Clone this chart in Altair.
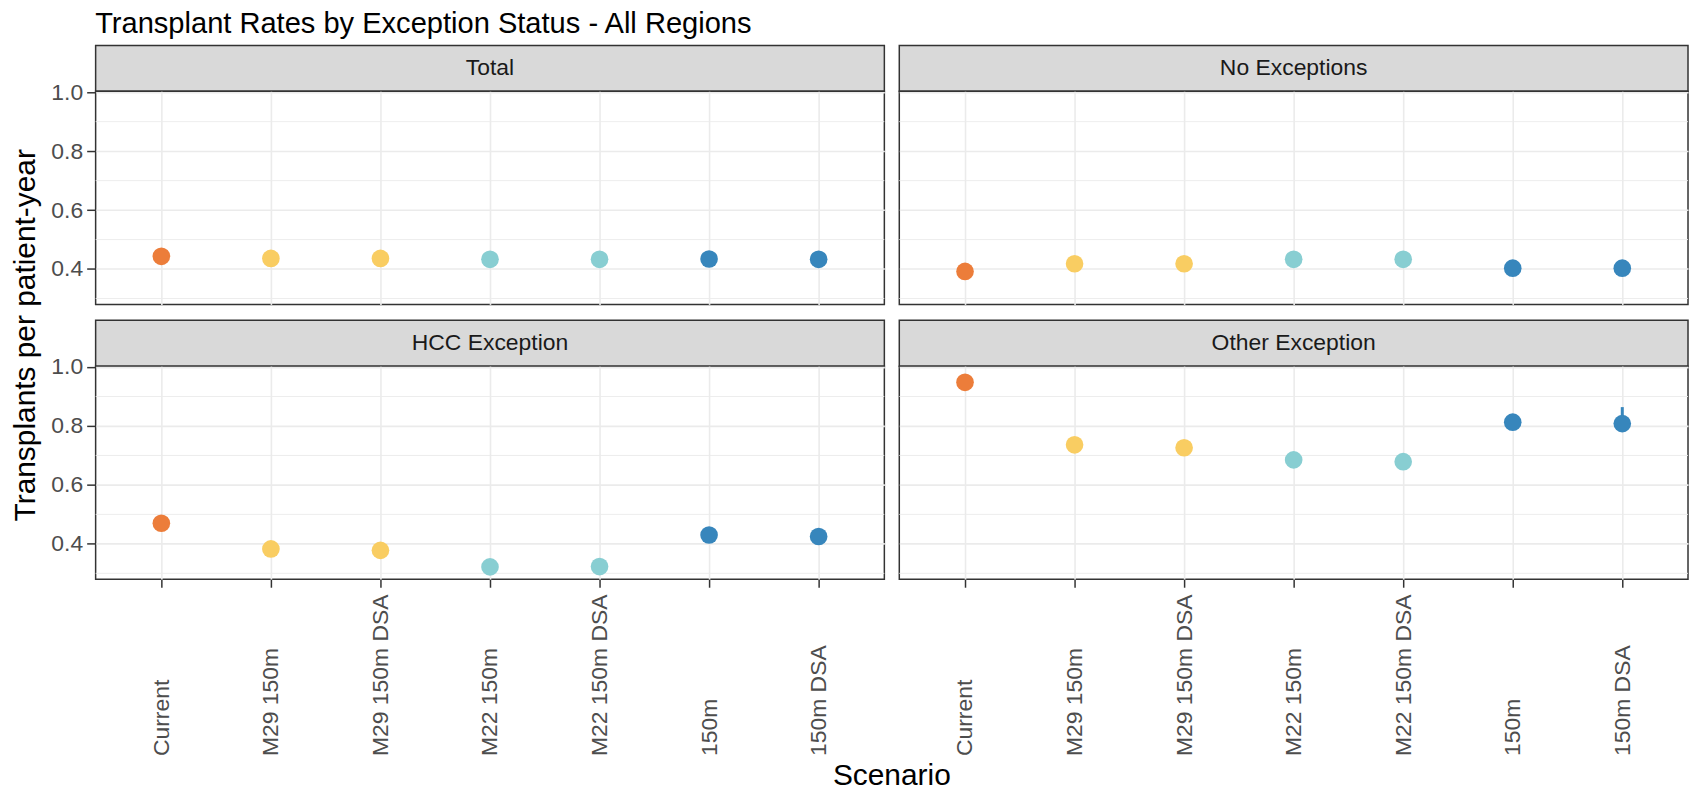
import altair as alt
import pandas as pd

FONT = "Liberation Sans"

chart_title = "Transplant Rates by Exception Status - All Regions"
y_title = "Transplants per patient-year"
x_title = "Scenario"

scenarios = ["Current", "M29 150m", "M29 150m DSA", "M22 150m", "M22 150m DSA", "150m", "150m DSA"]
scenario_group = ["Current", "M29", "M29", "M22", "M22", "150m", "150m"]
group_names = ["Current", "M29", "M22", "150m"]
group_colors = ["#EC7D3A", "#F9CD62", "#88CED2", "#3786BC"]

panels = ["Total", "No Exceptions", "HCC Exception", "Other Exception"]

rate_total = [0.443, 0.436, 0.436, 0.433, 0.433, 0.434, 0.433]
lo_total = [0.437, 0.431, 0.431, 0.428, 0.428, 0.428, 0.427]
hi_total = [0.449, 0.441, 0.441, 0.438, 0.438, 0.440, 0.439]

rate_noexc = [0.392, 0.418, 0.418, 0.433, 0.433, 0.403, 0.403]
lo_noexc = [0.386, 0.412, 0.412, 0.427, 0.427, 0.397, 0.397]
hi_noexc = [0.398, 0.424, 0.424, 0.439, 0.439, 0.409, 0.409]

rate_hcc = [0.470, 0.383, 0.378, 0.322, 0.323, 0.430, 0.425]
lo_hcc = [0.458, 0.374, 0.369, 0.313, 0.314, 0.421, 0.416]
hi_hcc = [0.482, 0.392, 0.387, 0.331, 0.332, 0.439, 0.434]

rate_other = [0.948, 0.736, 0.726, 0.685, 0.679, 0.813, 0.808]
lo_other = [0.926, 0.716, 0.706, 0.665, 0.659, 0.793, 0.780]
hi_other = [0.970, 0.756, 0.746, 0.705, 0.699, 0.833, 0.864]

major_ticks = [0.4, 0.6, 0.8, 1.0]
minor_ticks = [0.3, 0.5, 0.7, 0.9]
y_domain = [0.28, 1.003]

series = {
    "Total": (rate_total, lo_total, hi_total),
    "No Exceptions": (rate_noexc, lo_noexc, hi_noexc),
    "HCC Exception": (rate_hcc, lo_hcc, hi_hcc),
    "Other Exception": (rate_other, lo_other, hi_other),
}

rows = []
for p in panels:
    vals, los, his = series[p]
    for s, g, v, lo, hi in zip(scenarios, scenario_group, vals, los, his):
        rows.append({"panel": p, "scenario": s, "group": g, "rate": v, "lo": lo, "hi": hi})
df = pd.DataFrame(rows)
minor_df = pd.DataFrame({"v": minor_ticks})

W, H, SH, GAP = 792, 214, 46, 16
LW = 72          # width of the left column holding the y title
COLSP = 15
GRID = "#EBEBEB"
DARK = "#333333"
AXTXT = "#4D4D4D"
NOVIEW = alt.ViewBackground(stroke="transparent")


def panel_chart(name, left, bottom):
    d = df[df["panel"] == name]
    yaxis = alt.Axis(values=major_ticks, format=".1f", labels=left, ticks=left,
                     labelFontSize=23, labelColor=AXTXT, tickColor=DARK, tickSize=9,
                     tickWidth=1.5, labelPadding=4, domain=False, grid=True,
                     gridColor=GRID, gridWidth=1.6, title=None)
    xaxis = alt.Axis(labels=bottom, ticks=bottom, labelAngle=-90, labelAlign="left",
                     labelBaseline="middle", labelPadding=169, labelFontSize=23,
                     labelColor=AXTXT, labelOverlap=False, tickColor=DARK, tickSize=8,
                     tickWidth=1.5, domain=False, grid=True, gridColor=GRID,
                     gridWidth=1.6, title=None)
    xs = alt.Scale(type="point", domain=scenarios, padding=0.6)
    ys = alt.Scale(domain=y_domain, nice=False, zero=False)
    cs = alt.Scale(domain=group_names, range=group_colors)

    minor = alt.Chart(minor_df).mark_rule(color=GRID, strokeWidth=0.9).encode(
        y=alt.Y("v:Q", scale=ys, axis=yaxis)
    )
    err = alt.Chart(d).mark_rule(strokeWidth=3).encode(
        x=alt.X("scenario:N", scale=xs, axis=xaxis),
        y=alt.Y("lo:Q", scale=ys, axis=yaxis),
        y2="hi:Q",
        color=alt.Color("group:N", scale=cs, legend=None),
    )
    pts = alt.Chart(d).mark_circle(size=314, opacity=1).encode(
        x=alt.X("scenario:N", scale=xs, axis=xaxis),
        y=alt.Y("rate:Q", scale=ys, axis=yaxis),
        color=alt.Color("group:N", scale=cs, legend=None),
    )
    return alt.layer(minor, err, pts).properties(
        width=W, height=H,
        view=alt.ViewBackground(stroke=DARK, strokeWidth=1.5),
    )


def strip_chart(name):
    return alt.Chart(pd.DataFrame({"label": [name]})).mark_text(
        fontSize=23, color="#1A1A1A", baseline="middle", align="center"
    ).encode(
        x=alt.value(W / 2), y=alt.value(SH / 2), text="label:N"
    ).properties(
        width=W, height=SH,
        view=alt.ViewBackground(fill="#D9D9D9", stroke=DARK, strokeWidth=1.5),
    )


def blank(w, h):
    return alt.Chart(pd.DataFrame({"t": [""]})).mark_text().encode(
        text="t:N"
    ).properties(width=w, height=h, view=NOVIEW)


# y title sits in the left cell of the first plot row; centred on both panel rows
ytitle = alt.Chart(pd.DataFrame({"t": [y_title]})).mark_text(
    angle=270, fontSize=30, color="black", baseline="alphabetic", align="center"
).encode(
    x=alt.value(26), y=alt.value(245), text="t:N"
).properties(width=LW, height=H, view=NOVIEW)

# x title sits in the left cell of the second plot row, placed below the labels
xtitle = alt.Chart(pd.DataFrame({"t": [x_title]})).mark_text(
    fontSize=30, color="black", baseline="middle", align="center"
).encode(
    x=alt.value(LW + COLSP + (W * 2 + COLSP) / 2), y=alt.value(412), text="t:N"
).properties(width=LW, height=H, view=NOVIEW)

cells = [
    blank(LW, SH), strip_chart(panels[0]), strip_chart(panels[1]),
    ytitle, panel_chart(panels[0], True, False), panel_chart(panels[1], False, False),
    blank(LW, GAP), blank(W, GAP), blank(W, GAP),
    blank(LW, SH), strip_chart(panels[2]), strip_chart(panels[3]),
    xtitle, panel_chart(panels[2], True, True), panel_chart(panels[3], False, True),
]

chart = alt.concat(
    *cells, columns=3, spacing=alt.RowColnumber(row=0, column=COLSP), bounds="flush"
).properties(
    title=alt.TitleParams(chart_title, anchor="start", fontSize=29.2, fontWeight="normal",
                          color="black", dx=87, offset=6),
    padding=0,
).configure(font=FONT).configure_view(stroke="transparent")

chart.save("out.html", embed_options={"renderer": "svg", "actions": False})
